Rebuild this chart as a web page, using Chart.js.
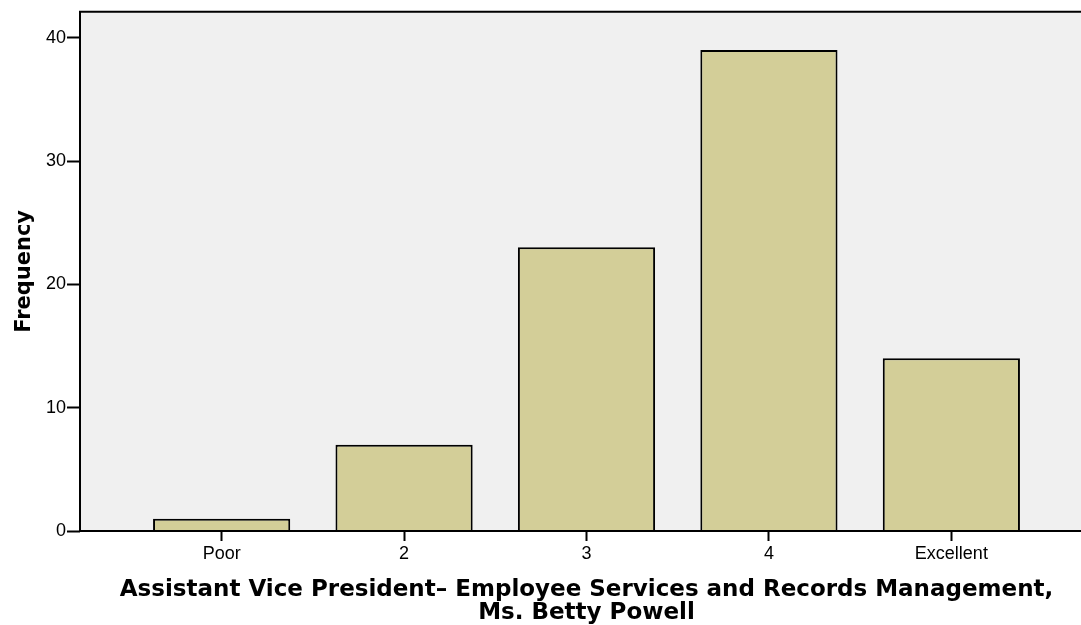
<!DOCTYPE html>
<html>
<head>
<meta charset="utf-8">
<script src="https://cdn.jsdelivr.net/npm/chart.js@4.4.1/dist/chart.umd.min.js"></script>
<style>
  html, body { margin: 0; padding: 0; background: #ffffff; overflow: hidden; }
  #wrap { position: relative; width: 1093px; height: 625px; }
</style>
</head>
<body>
<div id="wrap"><canvas id="c"></canvas></div>
<script>
const categories = ['Poor', '2', '3', '4', 'Excellent'];
const frequency = [1, 7, 23, 39, 14];
const yTicks = [0, 10, 20, 30, 40];
const xTitle = ['Assistant Vice President\u2013 Employee Services and Records Management,', 'Ms. Betty Powell'];
const yTitle = 'Frequency';

const FONT = "'Liberation Sans', Arial, sans-serif";
const TFONT = "'DejaVu Sans', sans-serif";

const plotBg = {
  id: 'plotBg',
  beforeDraw(chart) {
    const { ctx, chartArea: a } = chart;
    ctx.save();
    ctx.fillStyle = '#f0f0f0';
    ctx.fillRect(a.left, a.top, a.right - a.left, a.bottom - a.top);
    ctx.restore();
  },
  afterDatasetsDraw(chart) {
    const { ctx, chartArea: a } = chart;
    ctx.save();
    ctx.strokeStyle = '#000';
    ctx.lineWidth = 2;
    ctx.beginPath();
    ctx.moveTo(a.left, a.bottom);
    ctx.lineTo(a.left, a.top);
    ctx.lineTo(a.right + 5, a.top);
    ctx.stroke();
    ctx.beginPath();
    ctx.moveTo(a.left - 1, a.bottom);
    ctx.lineTo(a.right + 5, a.bottom);
    ctx.stroke();
    ctx.restore();
  }
};

new Chart(document.getElementById('c'), {
  type: 'bar',
  data: {
    datasets: [{
      data: frequency.map((v, i) => ({ x: i + 1, y: v })),
      backgroundColor: '#d3ce98',
      borderColor: '#000000',
      borderWidth: 2,
      barPercentage: 0.752,
      categoryPercentage: 1.0
    }]
  },
  options: {
    responsive: true,
    maintainAspectRatio: false,
    animation: false,
    layout: { padding: { top: 11, right: 0, bottom: 0, left: 0 } },
    plugins: { legend: { display: false }, tooltip: { enabled: false } },
    scales: {
      x: {
        type: 'linear',
        offset: false,
        min: 0.2236,
        max: 5.7764,
        grid: { display: true, offset: false, drawOnChartArea: false, drawTicks: true, tickLength: 10, tickColor: '#000', tickWidth: 2 },
        border: { display: false },
        afterBuildTicks(axis) { axis.ticks = categories.map((c, i) => ({ value: i + 1 })); },
        ticks: {
          autoSkip: false,
          maxRotation: 0,
          color: '#000',
          padding: 2,
          font: { family: FONT, size: 18 },
          callback: (v) => categories[Math.round(v) - 1]
        },
        title: {
          display: true,
          text: xTitle,
          color: '#000',
          font: { family: TFONT, size: 23, weight: 'bold', lineHeight: 1.0 },
          padding: { top: 8, bottom: 0 }
        },
        afterFit(axis) { axis.height = 94; }
      },
      y: {
        min: 0,
        max: 42.1,
        grid: { display: true, drawOnChartArea: false, drawTicks: true, tickLength: 13, tickColor: '#000', tickWidth: 2 },
        border: { display: false },
        afterBuildTicks(axis) { axis.ticks = yTicks.map(v => ({ value: v })); },
        ticks: {
          color: '#000',
          padding: 1,
          font: { family: FONT, size: 18 }
        },
        title: {
          display: true,
          text: yTitle,
          color: '#000',
          font: { family: TFONT, size: 21, weight: 'bold' },
          padding: { top: 12, bottom: 4 }
        },
        afterFit(axis) { axis.width = 80; }
      }
    }
  },
  plugins: [plotBg]
});
</script>
</body>
</html>
